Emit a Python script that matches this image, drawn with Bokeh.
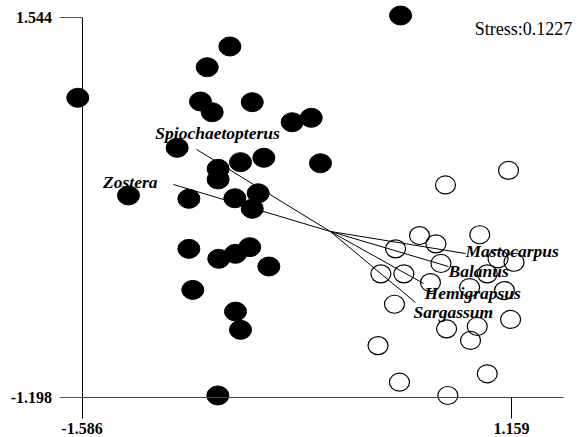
from bokeh.plotting import figure
from bokeh.models import Range1d, FixedTicker, Label, ColumnDataSource
from bokeh.embed import file_html
from bokeh.resources import INLINE
from bokeh.core.properties import value

# axis tick values
x_ticks = [-1.586, 1.159]
y_ticks = [-1.198, 1.544]
x_axis_end = 1.491
stress_text = "Stress:0.1227"

# group 1 (filled)
g1_x = [0.450, -0.641, -0.786, -1.613, -0.829, -0.754, -0.498, -0.243, -0.121,
        -0.978, -0.573, -0.424, -0.062, -0.716, -0.716, -1.289, -0.903, -0.609,
        -0.460, -0.498, -0.903, -0.712, -0.605, -0.514, -0.392, -0.878, -0.605,
        -0.573, -0.718]
g1_y = [1.562, 1.338, 1.188, 0.967, 0.940, 0.862, 0.935, 0.790, 0.822,
        0.605, 0.501, 0.533, 0.493, 0.453, 0.376, 0.260, 0.236, 0.240,
        0.276, 0.164, -0.126, -0.198, -0.162, -0.114, -0.254, -0.423, -0.580,
        -0.712, -1.187]

# group 2 (open)
g2_x = [1.140, 0.737, 0.571, 0.676, 0.418, 0.956, 0.708, 1.073, 1.175,
        0.324, 0.471, 0.641, 1.004, 0.891, 1.114, 0.411, 1.153, 0.744,
        0.940, 0.897, 0.306, 1.004, 0.443, 0.752]
g2_y = [0.441, 0.336, -0.030, -0.090, -0.126, -0.024, -0.232, -0.198, -0.223,
        -0.307, -0.307, -0.370, -0.307, -0.406, -0.428, -0.527, -0.637, -0.705,
        -0.688, -0.789, -0.826, -1.030, -1.091, -1.187]

# species vectors
species = ["Spiochaetopterus", "Zostera", "Mastocarpus", "Balanus", "Hemigrapsus", "Sargassum"]
vec_x = [-0.854, -1.001, 0.865, 0.756, 0.597, 0.545]
vec_y = [0.593, 0.339, -0.160, -0.254, -0.377, -0.514]

lab_align = ["center", "right", "left", "left", "left", "left"]
lab_dx = [21, -16, 0, 0, 1, -2]
lab_dy = [-16, -3, -3, 4, 9, 10]

p = figure(width=581, height=437, output_backend="svg", toolbar_location=None,
           x_range=Range1d(-2.1069, 1.6063), y_range=Range1d(-1.4910, 1.6706),
           min_border=0, outline_line_color=None)
p.grid.visible = False
p.background_fill_color = "white"
p.border_fill_color = "white"

serif = "Liberation Serif"

xa = p.xaxis[0]
xa.fixed_location = y_ticks[0]
xa.bounds = (x_ticks[0], x_axis_end)
xa.ticker = FixedTicker(ticks=x_ticks)
xa.major_label_overrides = {x_ticks[0]: "-1.586", x_ticks[1]: "1.159"}
xa.major_tick_out = 21
xa.major_tick_in = 0
xa.minor_tick_line_color = None
xa.axis_line_color = "#444444"
xa.major_tick_line_color = "black"
xa.major_label_text_font = serif
xa.major_label_text_font_style = "bold"
xa.major_label_text_font_size = "16px"
xa.major_label_text_color = "black"
xa.major_label_standoff = 5

ya = p.yaxis[0]
ya.fixed_location = x_ticks[0]
ya.bounds = (y_ticks[0], y_ticks[1])
ya.ticker = FixedTicker(ticks=y_ticks)
ya.major_label_overrides = {y_ticks[0]: "-1.198", y_ticks[1]: "1.544"}
ya.major_tick_out = 23
ya.major_tick_in = 0
ya.minor_tick_line_color = None
ya.axis_line_color = "black"
ya.major_tick_line_color = "#555555"
ya.major_label_text_font = serif
ya.major_label_text_font_style = "bold"
ya.major_label_text_font_size = "16px"
ya.major_label_text_color = "black"
ya.major_label_standoff = 7

p.ellipse(x=g1_x, y=g1_y, width=22, height=19, width_units="screen", height_units="screen",
          fill_color="black", line_color="black")
p.ellipse(x=g2_x, y=g2_y, width=20, height=18, width_units="screen", height_units="screen",
          fill_color=None, line_color="black", line_width=1.2)

src = ColumnDataSource(dict(x0=[0.0] * len(species), y0=[0.0] * len(species),
                            x=vec_x, y=vec_y, name=species, align=lab_align,
                            dx=lab_dx, dy=lab_dy))
p.segment(x0="x0", y0="y0", x1="x", y1="y", source=src, line_color="black", line_width=1)
p.text(x="x", y="y", text="name", source=src, text_align="align", text_baseline="middle",
       x_offset="dx", y_offset="dy", text_font=value(serif), text_font_style="bold italic",
       text_font_size="17.5px", text_color="black")

p.add_layout(Label(x=1.236, y=1.461, text=stress_text, text_align="center",
                   text_baseline="middle", text_font=serif, text_font_size="18px",
                   text_color="black"))

open("out.html", "w").write(file_html(p, INLINE))
